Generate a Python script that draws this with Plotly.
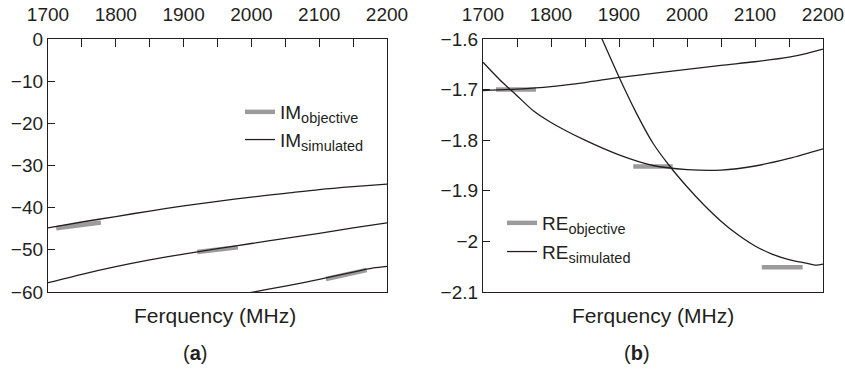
import plotly.graph_objects as go

# ---------------- data ----------------
freq_ticks = [1700, 1800, 1900, 2000, 2100, 2200]

im_sim1_f = [1700, 1750, 1800, 1850, 1900, 1950, 2000, 2050, 2100, 2150, 2200]
im_sim1_v = [-44.8, -43.4, -42.1, -40.8, -39.6, -38.5, -37.5, -36.6, -35.7, -35.0, -34.4]
im_sim2_f = [1700, 1750, 1800, 1850, 1900, 1950, 2000, 2050, 2100, 2150, 2200]
im_sim2_v = [-57.8, -55.8, -54.0, -52.4, -51.0, -49.7, -48.5, -47.3, -46.1, -44.8, -43.6]
im_sim3_f = [1990, 2000, 2050, 2100, 2150, 2180, 2200]
im_sim3_v = [-60.4, -60.1, -58.6, -57.0, -55.3, -54.3, -53.9]
im_obj_f = [1712, 1778, None, 1920, 1980, None, 2110, 2170]
im_obj_v = [-44.9, -43.5, None, -50.5, -49.4, None, -56.9, -54.8]

re_simA_f = [1700, 1750, 1800, 1850, 1900, 1950, 2000, 2050, 2100, 2150, 2175, 2200]
re_simA_v = [-1.702, -1.699, -1.694, -1.686, -1.676, -1.668, -1.660, -1.652, -1.645, -1.636, -1.629, -1.620]
re_simB_f = [1700, 1725, 1750, 1775, 1800, 1850, 1900, 1950, 2000, 2050, 2100, 2150, 2200]
re_simB_v = [-1.646, -1.681, -1.712, -1.743, -1.765, -1.800, -1.829, -1.850, -1.858, -1.859, -1.851, -1.836, -1.817]
re_simC_f = [1860, 1875, 1900, 1925, 1950, 1975, 2000, 2025, 2050, 2075, 2100, 2125, 2150, 2175, 2190, 2200]
re_simC_v = [-1.555, -1.600, -1.675, -1.745, -1.806, -1.852, -1.892, -1.928, -1.960, -1.987, -2.009, -2.025, -2.036, -2.043, -2.047, -2.045]
re_obj_f = [1719, 1778, None, 1921, 1979, None, 2110, 2170]
re_obj_v = [-1.700, -1.700, None, -1.852, -1.852, None, -2.051, -2.051]

# ---------------- style ----------------
INK = "#231f20"
GREY = "#9b9b9b"
FONT = "Liberation Sans, Arial, sans-serif"
SUB = "<sub><span style='font-size:14.5px'>{}</span></sub>"

fig = go.Figure()

sim_line = dict(color=INK, width=1.3, shape="spline", smoothing=0.8)

# left panel
fig.add_trace(go.Scatter(x=im_obj_f, y=im_obj_v, mode="lines", name="IM" + SUB.format("objective"),
                         line=dict(color=GREY, width=4.5), xaxis="x", yaxis="y", legend="legend"))
fig.add_trace(go.Scatter(x=im_sim1_f, y=im_sim1_v, mode="lines", name="IM" + SUB.format("simulated"),
                         line=sim_line, xaxis="x", yaxis="y", legend="legend"))
for f, v in [(im_sim2_f, im_sim2_v), (im_sim3_f, im_sim3_v)]:
    fig.add_trace(go.Scatter(x=f, y=v, mode="lines", line=sim_line, showlegend=False,
                             xaxis="x", yaxis="y"))

# right panel
fig.add_trace(go.Scatter(x=re_obj_f, y=re_obj_v, mode="lines", name="RE" + SUB.format("objective"),
                         line=dict(color=GREY, width=4.5), xaxis="x2", yaxis="y2",
                         legend="legend2", legendgroup="r1"))
fig.add_trace(go.Scatter(x=re_simA_f, y=re_simA_v, mode="lines", name="RE" + SUB.format("simulated"),
                         line=sim_line, xaxis="x2", yaxis="y2", legend="legend2", legendgroup="r2"))
for f, v in [(re_simB_f, re_simB_v), (re_simC_f, re_simC_v)]:
    fig.add_trace(go.Scatter(x=f, y=v, mode="lines", line=sim_line, showlegend=False,
                             xaxis="x2", yaxis="y2"))

W, H = 845, 369
ydom = [1 - 292 / H, 1 - 39 / H]

xcommon = dict(range=[1700, 2200], side="top", tickmode="array", tickvals=freq_ticks,
               ticks="inside", ticklen=8, tickwidth=1.2, tickcolor=INK, ticklabelstandoff=9,
               minor=dict(tickmode="linear", tick0=1700, dtick=50, ticks="inside", ticklen=8,
                          tickwidth=1.2, tickcolor=INK),
               showline=True, linecolor=INK, linewidth=1.3, mirror=True, showgrid=False,
               zeroline=False, automargin=False,
               tickfont=dict(size=19, color=INK, family=FONT), fixedrange=True)
ycommon = dict(ticks="inside", ticklen=7, tickwidth=1.2, tickcolor=INK,
               showline=True, linecolor=INK, linewidth=1.3, mirror=True, showgrid=False,
               zeroline=False, automargin=False,
               tickfont=dict(size=19, color=INK, family=FONT), fixedrange=True)

fig.update_layout(
    width=W, height=H,
    margin=dict(l=0, r=0, t=0, b=0),
    paper_bgcolor="white", plot_bgcolor="white",
    font=dict(family=FONT, color=INK, size=19),
    xaxis=dict(domain=[48 / W, 387 / W], anchor="y", **xcommon),
    yaxis=dict(domain=ydom, anchor="x", range=[-60, 0], tickmode="array",
               tickvals=[0, -10, -20, -30, -40, -50, -60], **ycommon),
    xaxis2=dict(domain=[483 / W, 823 / W], anchor="y2", **xcommon),
    yaxis2=dict(domain=ydom, anchor="x2", range=[-2.1, -1.6], tickmode="array",
                tickvals=[-1.6, -1.7, -1.8, -1.9, -2.0, -2.1],
                ticktext=["\u22121.6", "\u22121.7", "\u22121.8", "\u22121.9", "\u22122", "\u22122.1"],
                **ycommon),
    legend=dict(x=240 / W, y=1 - 93 / H, xanchor="left", yanchor="top",
                bgcolor="rgba(0,0,0,0)", itemwidth=30, tracegroupgap=0,
                font=dict(size=19, color=INK, family=FONT)),
    legend2=dict(x=502 / W, y=1 - 204 / H, xanchor="left", yanchor="top",
                 bgcolor="rgba(0,0,0,0)", itemwidth=30, tracegroupgap=1,
                 traceorder="grouped",
                 font=dict(size=19, color=INK, family=FONT)),
    showlegend=True,
    annotations=[
        dict(text="Ferquency (MHz)", x=215 / W, y=1 - 315 / H, xref="paper", yref="paper",
             xanchor="center", yanchor="middle",
             showarrow=False, font=dict(size=21, color=INK, family=FONT)),
        dict(text="Ferquency (MHz)", x=653 / W, y=1 - 315 / H, xref="paper", yref="paper",
             xanchor="center", yanchor="middle",
             showarrow=False, font=dict(size=21, color=INK, family=FONT)),
        dict(text="(<b>a</b>)", x=195 / W, y=1 - 353 / H, xref="paper", yref="paper",
             xanchor="center", yanchor="middle",
             showarrow=False, font=dict(size=20, color=INK, family=FONT)),
        dict(text="(<b>b</b>)", x=637 / W, y=1 - 353 / H, xref="paper", yref="paper",
             xanchor="center", yanchor="middle",
             showarrow=False, font=dict(size=20, color=INK, family=FONT)),
    ],
)

fig.write_html("out.html", config={"displayModeBar": False})
